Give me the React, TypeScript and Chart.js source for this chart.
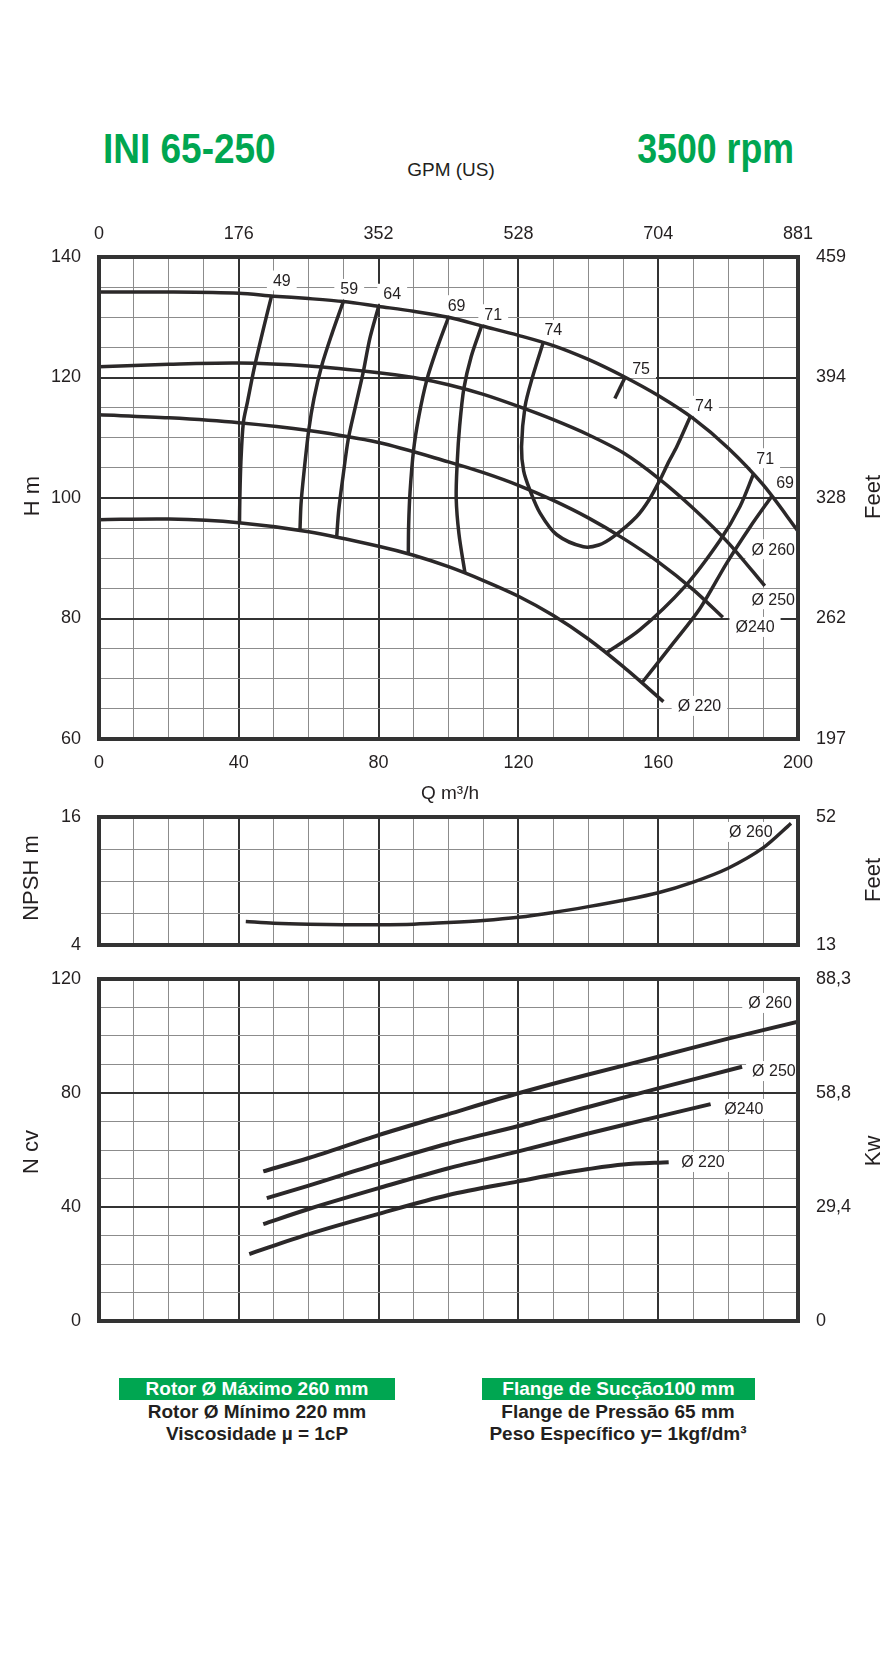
import React, { useEffect, useRef } from 'react';
import { Chart, registerables } from 'chart.js';

Chart.register(...registerables);

const FONT = '"Liberation Sans", Arial, Helvetica, sans-serif';
const INK = '#2b2829';
const TEXT = '#231f20';
const GRID_MINOR = '#8c8c8c';
const GRID_MAJOR = '#333333';
const GREEN = '#00a651';

// ---------- Head curves (Q m3/h, H m) ----------
const q260 = [0, 20, 40, 50, 60, 70, 80, 90, 100, 110, 120, 130, 140, 150, 160, 170, 180, 190, 200];
const h260 = [134.2, 134.2, 134.0, 133.5, 133.1, 132.6, 131.8, 131.0, 130.0, 128.5, 127.0, 125.3, 123.0, 120.2, 117.0, 113.2, 108.3, 102.2, 94.5];
const q250 = [0, 20, 40, 60, 80, 90, 100, 110, 120, 130, 140, 150, 160, 170, 180, 190.5];
const h250 = [121.8, 122.2, 122.4, 121.9, 120.8, 120.0, 118.8, 117.2, 115.2, 113.0, 110.5, 107.5, 103.3, 98.3, 92.6, 85.4];
const q240 = [0, 20, 40, 60, 80, 100, 110, 120, 130, 140, 150, 160, 170, 178.5];
const h240 = [113.8, 113.3, 112.5, 111.2, 109.2, 106.0, 104.2, 102.1, 99.6, 96.7, 93.3, 89.4, 84.8, 80.2];
const q220 = [0, 20, 40, 60, 80, 90, 100, 110, 120, 130, 140, 150, 161.5];
const h220 = [96.4, 96.5, 95.9, 94.4, 92.0, 90.5, 88.6, 86.3, 83.7, 80.5, 76.6, 72.0, 66.2];

// ---------- Iso-efficiency curves (Q, H) ----------
const qEff49 = [49.4, 47, 44.5, 42.5, 41.3, 40.6, 40.3, 40.2];
const hEff49 = [133.6, 128, 121.8, 116, 112.5, 106, 100, 95.9];
const qEff59 = [69.9, 66.5, 63.7, 61.5, 60, 58.6, 57.8, 57.5];
const hEff59 = [132.6, 127, 121.9, 116.5, 111.2, 104, 99, 94.6];
const qEff64 = [80, 77.5, 75.6, 73.3, 71.3, 69.8, 68.6, 68];
const hEff64 = [131.8, 126.5, 120.9, 115, 109.7, 103.5, 98, 93.5];
const qEff69 = [100, 96.5, 93.8, 91.5, 90, 89, 88.6, 88.5];
const hEff69 = [130.0, 124.5, 119.6, 113.5, 107.9, 101, 95.5, 90.7];
const qEff71 = [109.5, 106.5, 104.4, 103.2, 102.5, 102.2, 103, 104.7];
const hEff71 = [128.6, 123.5, 118.2, 112, 106, 100, 94, 87.6];
const qEff74 = [127.1, 124, 121.9, 120.9, 121.5, 123.3, 126.2, 131, 138.6, 143, 147.2, 153.8, 157.5, 160.5, 163, 165.3, 169.1];
const hEff74 = [125.8, 120, 115.2, 108.5, 104.5, 101.3, 97.5, 93.9, 91.9, 92.2, 93.6, 96.9, 99.8, 103, 106, 108.5, 113.4];
const qEff75 = [150.5, 147.6];
const hEff75 = [120.0, 116.5];
const qEff71b = [144.9, 154.7, 167.6, 177.7, 183.4, 187.2];
const hEff71b = [74.2, 78.1, 85.3, 93.0, 98.6, 103.9];
const qEff69b = [155.3, 164.3, 172, 179.6, 186.3, 192.5];
const hEff69b = [69.3, 75.9, 81.7, 89.2, 95.2, 100.3];

// ---------- NPSH (Q, m) ----------
const qNpsh = [42, 50, 60, 70, 80, 90, 100, 110, 120, 130, 140, 150, 160, 170, 180, 190, 198];
const npsh260 = [6.2, 6.05, 5.95, 5.9, 5.9, 5.95, 6.1, 6.3, 6.6, 7.05, 7.6, 8.2, 8.9, 9.9, 11.2, 13.1, 15.4];

// ---------- Power (Q, cv) ----------
const qP260 = [47, 60, 80, 100, 120, 140, 160, 180, 200];
const p260 = [52.5, 57.2, 65.2, 72.6, 79.9, 86.5, 92.7, 99.1, 105];
const qP250 = [48, 60, 80, 100, 120, 140, 160, 184];
const p250 = [43.1, 47.5, 55.2, 62.3, 68.4, 75.1, 81.6, 89.2];
const qP240 = [47, 60, 80, 100, 120, 140, 160, 175];
const p240 = [34, 39.3, 46.6, 53.6, 59.5, 65.8, 71.7, 76.1];
const qP220 = [43, 60, 80, 100, 120, 130, 140, 150, 163];
const p220 = [23.5, 30.5, 37.6, 44.2, 49.0, 51.3, 53.3, 54.9, 55.7];

// ---------- Tick labels ----------
const gpmTicks = ['0', '176', '352', '528', '704', '881'];
const headFeetTicks = ['197', '262', '328', '394', '459'];
const npshLeftTicks = ['4', '', '', '', '16'];
const npshFeetTicks = ['13', '', '', '', '52'];
const powerKwTicks = ['0', '29,4', '58,8', '88,3'];

// ---------- Curve labels (anchored in data units) ----------
const headLabelText = ['49', '59', '64', '69', '71', '74', '75', '74', '71', '69', 'Ø 260', 'Ø 250', 'Ø240', 'Ø 220'];
const headLabelQ = [52.3, 71.6, 83.9, 102.3, 112.8, 130.0, 155.1, 173.1, 190.6, 196.3, 192.9, 192.9, 187.7, 171.8];
const headLabelH = [136.1, 134.7, 133.9, 132.0, 130.5, 127.9, 121.5, 115.3, 106.6, 102.5, 91.5, 83.2, 78.6, 65.5];
const npshLabelText = ['Ø 260'];
const npshLabelQ = [186.5];
const npshLabelV = [14.6];
const powerLabelText = ['Ø 260', 'Ø 250', 'Ø240', 'Ø 220'];
const powerLabelQ = [192, 193.1, 184.5, 172.8];
const powerLabelV = [111.6, 87.7, 74.4, 55.8];

const pts = (xs: number[], ys: number[]) => xs.map((x, i) => ({ x, y: ys[i] }));

const curve = (xs: number[], ys: number[], width: number) => ({
  type: 'line' as const,
  data: pts(xs, ys),
  borderColor: INK,
  borderWidth: width,
  pointRadius: 0,
  tension: 0.3,
  fill: false,
  borderCapStyle: 'butt' as const,
  xAxisID: 'x',
  yAxisID: 'y',
});

const framePlugin = {
  id: 'frame',
  afterDatasetsDraw(chart: any) {
    const { ctx, chartArea: a } = chart;
    ctx.save();
    ctx.strokeStyle = '#333333';
    ctx.lineWidth = 4;
    ctx.strokeRect(a.left, a.top, a.right - a.left, a.bottom - a.top);
    ctx.restore();
  },
};

const labelPlugin = {
  id: 'boxLabels',
  beforeDatasetsDraw(chart: any, _args: any, opts: any) {
    const { ctx } = chart;
    const xs = chart.scales.x;
    const ys = chart.scales.y;
    ctx.save();
    ctx.font = `16px ${FONT}`;
    ctx.textAlign = 'center';
    ctx.textBaseline = 'middle';
    (opts.text || []).forEach((t: string, i: number) => {
      const px = xs.getPixelForValue(opts.qs[i]);
      const py = ys.getPixelForValue(opts.vs[i]);
      const w = ctx.measureText(t).width + 12;
      ctx.fillStyle = '#ffffff';
      ctx.fillRect(px - w / 2, py - 10, w, 20);
      ctx.fillStyle = TEXT;
      ctx.fillText(t, px, py + 1);
    });
    ctx.restore();
  },
};

const gridColor = (major: number) => (c: any) =>
  c.tick && Math.round(c.tick.value) % major === 0 ? GRID_MAJOR : GRID_MINOR;
const gridWidth = (major: number) => (c: any) =>
  c.tick && Math.round(c.tick.value) % major === 0 ? 2 : 1;

const tickFont = { family: FONT, size: 18 };

// fixes the axis box size and stops tick-label overhang from shrinking the plot
const fixSize = (dim: 'width' | 'height', size: number) => (s: any) => {
  s[dim] = size;
  s.paddingTop = 0;
  s.paddingBottom = 0;
  s.paddingLeft = 0;
  s.paddingRight = 0;
};

function xScale(height: number, showLabels: boolean) {
  return {
    type: 'linear',
    position: 'bottom',
    min: 0,
    max: 200,
    afterFit: fixSize('height', height),
    ticks: {
      display: showLabels,
      stepSize: 10,
      autoSkip: false,
      maxRotation: 0,
      padding: 13,
      font: tickFont,
      color: TEXT,
      callback: (v: number) => (Math.round(v) % 40 === 0 ? String(v) : ''),
    },
    grid: { color: gridColor(40), lineWidth: gridWidth(40), drawTicks: false },
    border: { display: false },
  };
}

function xTopScale(height: number, labels: string[] | null) {
  return {
    type: 'linear',
    position: 'top',
    min: 0,
    max: 200,
    afterFit: fixSize('height', height),
    ticks: {
      display: !!labels,
      stepSize: 40,
      autoSkip: false,
      maxRotation: 0,
      padding: 12,
      font: tickFont,
      color: TEXT,
      callback: (_v: number, i: number) => (labels ? labels[i] : ''),
    },
    grid: { display: false, drawTicks: false },
    border: { display: false },
  };
}

function yScale(min: number, max: number, step: number, major: number, labels: (v: number, i: number) => string) {
  return {
    type: 'linear',
    position: 'left',
    min,
    max,
    afterFit: fixSize('width', 99),
    ticks: { stepSize: step, autoSkip: false, padding: 18, font: tickFont, color: TEXT, callback: labels },
    grid: { color: gridColor(major), lineWidth: gridWidth(major), drawTicks: false },
    border: { display: false },
  };
}

function yRight(min: number, max: number, step: number, labels: string[]) {
  return {
    type: 'linear',
    position: 'right',
    min,
    max,
    afterFit: fixSize('width', 97),
    ticks: { stepSize: step, autoSkip: false, padding: 18, font: tickFont, color: TEXT, callback: (_v: number, i: number) => labels[i] },
    grid: { display: false, drawTicks: false },
    border: { display: false },
  };
}

const baseOptions = (scales: any, labels: any) => ({
  responsive: false,
  animation: false,
  devicePixelRatio: 1,
  layout: { padding: 0 },
  plugins: { legend: { display: false }, tooltip: { enabled: false }, boxLabels: labels },
  scales,
});

function useChart(ref: React.RefObject<HTMLCanvasElement>, make: () => any) {
  useEffect(() => {
    if (!ref.current) return;
    const chart = new Chart(ref.current, make());
    return () => chart.destroy();
  }, []);
}

function HeadChart() {
  const ref = useRef<HTMLCanvasElement>(null);
  useChart(ref, () => ({
    type: 'line',
    data: {
      datasets: [
        curve(q260, h260, 3.5), curve(q250, h250, 3.5), curve(q240, h240, 3.5), curve(q220, h220, 3.5),
        curve(qEff49, hEff49, 3.5), curve(qEff59, hEff59, 3.5), curve(qEff64, hEff64, 3.5),
        curve(qEff69, hEff69, 3.5), curve(qEff71, hEff71, 3.5), curve(qEff74, hEff74, 3.5),
        curve(qEff75, hEff75, 3.5), curve(qEff71b, hEff71b, 3.5), curve(qEff69b, hEff69b, 3.5),
      ],
    },
    options: baseOptions({
      x: xScale(71, true),
      xTop: xTopScale(67, gpmTicks),
      y: yScale(60, 140, 5, 20, (v: number) => (Math.round(v) % 20 === 0 ? String(v) : '')),
      yRight: yRight(60, 140, 20, headFeetTicks),
    }, { text: headLabelText, qs: headLabelQ, vs: headLabelH }),
    plugins: [labelPlugin, framePlugin],
  }));
  return <canvas ref={ref} width={895} height={620} style={{ position: 'absolute', left: 0, top: 190, width: 895, height: 620 }} />;
}

function NpshChart() {
  const ref = useRef<HTMLCanvasElement>(null);
  useChart(ref, () => ({
    type: 'line',
    data: { datasets: [curve(qNpsh, npsh260, 3.5)] },
    options: baseOptions({
      x: xScale(20, false),
      xTop: xTopScale(17, null),
      y: yScale(4, 16, 3, 1000, (_v: number, i: number) => npshLeftTicks[i]),
      yRight: yRight(4, 16, 3, npshFeetTicks),
    }, { text: npshLabelText, qs: npshLabelQ, vs: npshLabelV }),
    plugins: [labelPlugin, framePlugin],
  }));
  return <canvas ref={ref} width={895} height={165} style={{ position: 'absolute', left: 0, top: 800, width: 895, height: 165 }} />;
}

function PowerChart() {
  const ref = useRef<HTMLCanvasElement>(null);
  useChart(ref, () => ({
    type: 'line',
    data: { datasets: [curve(qP260, p260, 4), curve(qP250, p250, 4), curve(qP240, p240, 4), curve(qP220, p220, 4)] },
    options: baseOptions({
      x: xScale(19, false),
      xTop: xTopScale(14, null),
      y: yScale(0, 120, 10, 40, (v: number) => (Math.round(v) % 40 === 0 ? String(v) : '')),
      yRight: yRight(0, 120, 40, powerKwTicks),
    }, { text: powerLabelText, qs: powerLabelQ, vs: powerLabelV }),
    plugins: [labelPlugin, framePlugin],
  }));
  return <canvas ref={ref} width={895} height={375} style={{ position: 'absolute', left: 0, top: 965, width: 895, height: 375 }} />;
}

type TxtProps = {
  x: number; y: number; size: number; text: string;
  bold?: boolean; color?: string; anchor?: 'left' | 'center' | 'right'; rotate?: boolean; sx?: number;
};

function Txt({ x, y, size, text, bold, color = TEXT, anchor = 'center', rotate, sx = 1 }: TxtProps) {
  const tx = anchor === 'left' ? '0' : anchor === 'right' ? '-100%' : '-50%';
  const origin = anchor === 'left' ? 'left center' : anchor === 'right' ? 'right center' : 'center center';
  return (
    <div
      style={{
        position: 'absolute', left: x, top: y, fontFamily: FONT, fontSize: size, lineHeight: 1,
        fontWeight: bold ? 700 : 400, color, whiteSpace: 'nowrap',
        transform: `translate(${tx}, -50%)${rotate ? ' rotate(-90deg)' : ''}${sx !== 1 ? ` scaleX(${sx})` : ''}`,
        transformOrigin: origin,
      }}
    >
      {text}
    </div>
  );
}

function GreenBox({ x, y, w, text }: { x: number; y: number; w: number; text: string }) {
  return (
    <div style={{
      position: 'absolute', left: x, top: y, width: w, height: 22, background: GREEN, color: '#fff',
      fontFamily: FONT, fontWeight: 700, fontSize: 19, lineHeight: '22px', textAlign: 'center', whiteSpace: 'nowrap',
    }}>{text}</div>
  );
}

export default function App() {
  return (
    <div style={{ position: 'absolute', left: 0, top: 0, width: 895, height: 1654, background: '#fff', overflow: 'hidden' }}>
      <Txt x={103} y={148} size={43} bold color={GREEN} anchor="left" sx={0.86} text="INI 65-250" />
      <Txt x={794} y={148} size={43} bold color={GREEN} anchor="right" sx={0.83} text="3500 rpm" />
      <Txt x={451} y={169} size={19} text="GPM (US)" />

      <HeadChart />
      <NpshChart />
      <PowerChart />

      <Txt x={450} y={792} size={19} text="Q m³/h" />
      <Txt x={32} y={496} size={22} rotate text="H m" />
      <Txt x={873} y={497} size={22} rotate text="Feet" />
      <Txt x={31} y={878} size={22} rotate text="NPSH m" />
      <Txt x={873} y={880} size={22} rotate text="Feet" />
      <Txt x={31} y={1152} size={22} rotate text="N cv" />
      <Txt x={873} y={1151} size={22} rotate text="Kw" />

      <GreenBox x={119} y={1378} w={276} text="Rotor Ø Máximo 260 mm" />
      <Txt x={257} y={1411} size={19} bold text="Rotor Ø Mínimo 220 mm" />
      <Txt x={257} y={1433} size={19} bold text="Viscosidade µ = 1cP" />
      <GreenBox x={482} y={1378} w={273} text="Flange de Sucção100 mm" />
      <Txt x={618} y={1411} size={19} bold text="Flange de Pressão 65 mm" />
      <Txt x={618} y={1433} size={19} bold text="Peso Específico y= 1kgf/dm³" />
    </div>
  );
}
